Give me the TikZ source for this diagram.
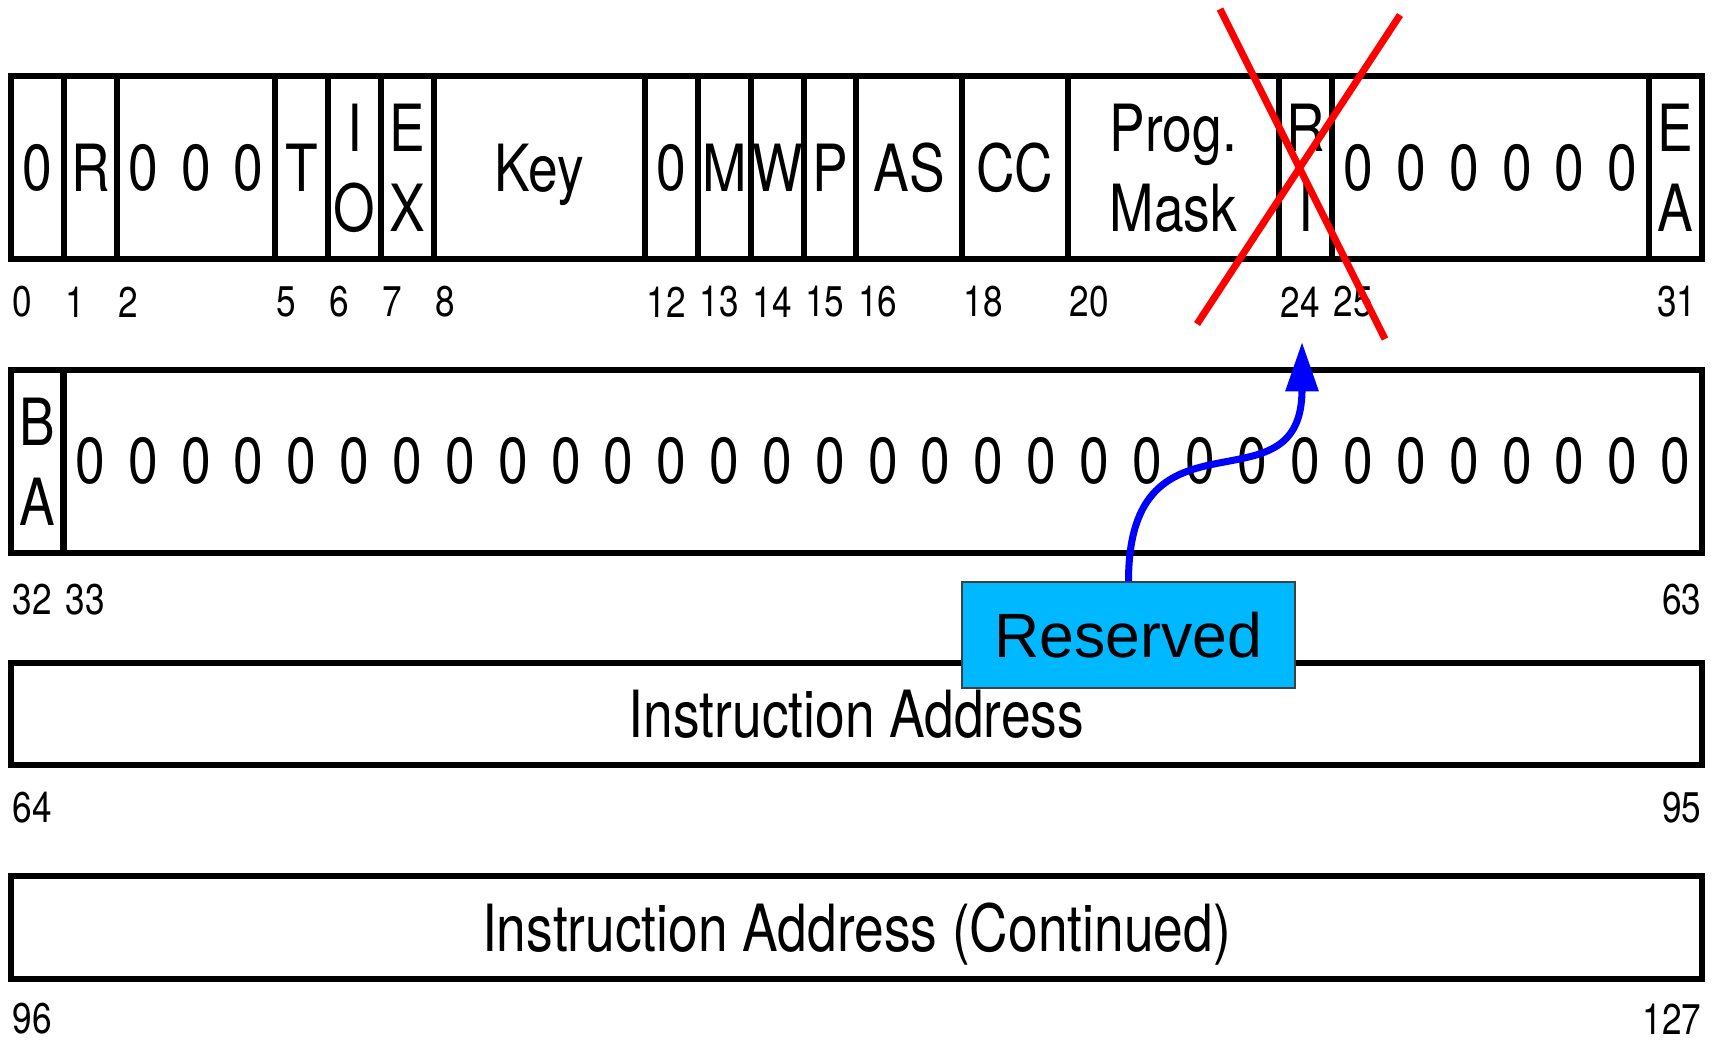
\documentclass[tikz,border=0pt]{standalone}
\usepackage{fontspec}
\usetikzlibrary{arrows.meta}
\newfontfamily\narrowsans[FakeStretch=0.82]{TeX Gyre Heros}
\newfontfamily\calloutsans{Liberation Sans}
\definecolor{reservedblue}{RGB}{0,184,255}
\tikzstyle{field}=[
	rectangle,
	draw,
	line width=1.7pt,
	inner sep=0pt,
	outer sep=0pt,
	minimum height=1.83cm,
	align=center,
	text depth=0pt,
	font={\narrowsans\fontsize{18.5}{22.8}\selectfont}
]
\tikzstyle{bitval}=[
	inner sep=0pt,
	text depth=0pt,
	font={\narrowsans\fontsize{18.5}{22.8}\selectfont}
]
\tikzstyle{bitnum}=[
	inner sep=0pt,
	anchor=west,
	font={\narrowsans\fontsize{12.2}{14}\selectfont}
]
\tikzstyle{strike}=[
	red,
	line width=2pt
]
\tikzstyle{callout}=[
	rectangle,
	draw=black!75,
	fill=reservedblue,
	line width=0.5pt,
	minimum width=3.33cm,
	minimum height=1.06cm,
	font={\calloutsans\fontsize{17.8}{20}\selectfont}
]
\tikzstyle{pointer}=[
	-{Triangle[length=14pt,width=9pt]},
	blue,
	line width=2pt
]

\begin{document}
\begin{tikzpicture}[x=0.01cm, y=-0.01cm]
\useasboundingbox (0,0) rectangle (1713,1041);
% first word: bits 0-31
\foreach \s/\e/\txt/\nm in {0/1/0/zeroA, 1/2/R/per, 2/5/{}/zeroB, 5/6/T/trace, 6/7/{I\\O}/io, 7/8/{E\\X}/ext, 8/12/Key/key, 12/13/0/zeroC, 13/14/M/mchk, 14/15/W/wait, 15/16/P/prob, 16/18/AS/asp, 18/20/CC/cc, 20/24/{Prog.\\Mask}/pmask, 24/25/{R\\I}/ri, 25/31/{}/zeroD, 31/32/{E\\A}/ea}
	\node [field, minimum width={(\e-\s)*0.5284cm}] (\nm) at ({11+52.84*(\s+\e)/2}, 167.5) {\txt};
\foreach \b in {2,3,4,25,26,27,28,29,30}
	\node [bitval] (x\b) at ({11+52.84*(\b+0.5)}, 167) {0};
\foreach \b in {0,1,2,5,6,7,8,12,13,14,15,16,18,20,24,25}
	\node [bitnum] (n\b) at ({12+52.84*\b}, 302) {\b};
\node [bitnum, anchor=east] (n31) at (1697, 302) {31};

% second word: bits 32-63
\node [field, minimum width=0.5284cm] (ba) at ({11+52.84*0.5}, 461.5) {B\\A};
\node [field, minimum width={31*0.5284cm}] (low) at ({11+52.84*16.5}, 461.5) {};
\foreach \b in {1,...,31}
	\node [bitval] (y\b) at ({11+52.84*(\b+0.5)}, 460) {0};
\node [bitnum] (n32) at (12, 600) {32};
\node [bitnum] (n33) at ({12+52.84}, 600) {33};
\node [bitnum, anchor=east] (n63) at (1702, 600) {63};

% instruction address
\node [field, minimum width={32*0.5284cm}, minimum height=1.02cm] (iaddr) at (856.5, 714) {Instruction Address};
\node [bitnum] (n64) at (12, 808) {64};
\node [bitnum, anchor=east] (n95) at (1702, 808) {95};
\node [field, minimum width={32*0.5284cm}, minimum height=1.03cm] (iaddrc) at (856.5, 927.5) {Instruction Address (Continued)};
\node [bitnum] (n96) at (12, 1019) {96};
\node [bitnum, anchor=east] (n127) at (1702, 1019) {127};

% crossed out field
\coordinate (xa1) at (1220, 9);
\coordinate (xa2) at (1385, 339);
\coordinate (xb1) at (1400, 15);
\coordinate (xb2) at (1197, 324);
\draw [strike] (xa1) -- (xa2);
\draw [strike] (xb1) -- (xb2);

\node [callout] (reserved) at (1128.5, 635) {Reserved};
\coordinate (rsvtip) at (1302, 342);
\draw [pointer] (reserved.north) .. controls +(0,-185) and +(0,175) .. (rsvtip);
\end{tikzpicture}
\end{document}
